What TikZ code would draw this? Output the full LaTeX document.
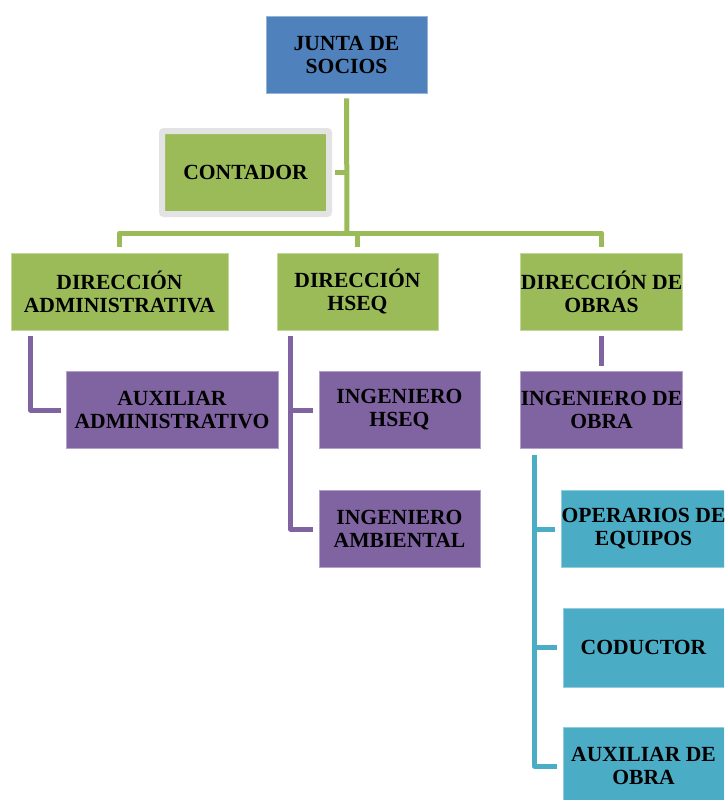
\documentclass[tikz,border=0pt]{standalone}
\usepackage{fontspec}
\setmainfont{Liberation Serif}
\definecolor{cgreen}{HTML}{9BBB59}
\definecolor{cpurple}{HTML}{8064A2}
\definecolor{ccyan}{HTML}{4BACC6}
\definecolor{cblue}{HTML}{4F81BD}
\definecolor{cframe}{HTML}{E3E3E3}
\tikzset{
  box/.style={line width=0.8pt, minimum width=161pt, minimum height=77pt, inner sep=0pt,
    align=center, text=black, font=\bfseries\fontsize{21.6}{23}\selectfont},
  gbox/.style={box, fill=cgreen, draw=cgreen!60!white},
  pbox/.style={box, fill=cpurple, draw=cpurple!60!white},
  cbox/.style={box, fill=ccyan, draw=ccyan!60!white},
  bbox/.style={box, fill=cblue, draw=cblue!60!white},
  conn/.style={line width=5pt, line join=round},
  gline/.style={conn, draw=cgreen},
  pline/.style={conn, draw=cpurple},
  cline/.style={conn, draw=ccyan}
}
\begin{document}
\begin{tikzpicture}[x=1pt,y=-1pt]
\useasboundingbox (0,0) rectangle (724,800);
\clip (0,0) rectangle (724,800);
\fill[white] (0,0) rectangle (724,800);

% nodes
\node[bbox] (junta) at (346.5,54.5) {JUNTA DE\\SOCIOS};
\node[box, fill=cgreen, draw=cframe, line width=6pt, rounded corners=2pt,
      minimum width=167pt, minimum height=83pt] (contador) at (245.5,172.5) {CONTADOR};
\node[gbox, minimum width=217pt] (dadm) at (119.5,291.5) {DIRECCIÓN\\ADMINISTRATIVA};
\node[gbox] (dhseq) at (357.5,291.5) {DIRECCIÓN\\HSEQ};
\node[gbox] (dobras) at (601.5,291.5) {DIRECCIÓN DE\\OBRAS};
\node[pbox, minimum width=212pt] (auxadm) at (172,410) {AUXILIAR\\ADMINISTRATIVO};
\node[pbox] (inghseq) at (399.5,410) {INGENIERO\\HSEQ};
\node[pbox] (ingamb) at (399.5,529) {INGENIERO\\AMBIENTAL};
\node[pbox] (ingobra) at (601.5,410) {INGENIERO DE\\OBRA};
\node[cbox] (operarios) at (643.5,529) {OPERARIOS DE\\EQUIPOS};
\node[cbox, minimum height=79pt] (coductor) at (643.5,647.5) {CODUCTOR};
\node[cbox, minimum height=78pt] (auxobra) at (643.5,766) {AUXILIAR DE\\OBRA};

% green connectors
\coordinate (bus) at (347,233);
\draw[gline] ([yshift=-5pt]junta.south) -- (bus);
\draw[gline] ([xshift=3pt]contador.east) -- (contador.east -| bus);
\draw[gline] ([yshift=6pt]dadm.north) |- (bus);
\draw[gline] ([yshift=6pt]dobras.north) |- (bus);
\draw[gline] ([yshift=6pt]dhseq.north) -- (dhseq.north |- bus);

% purple connectors
\draw[pline] ([shift={(20pt,-6pt)}]dadm.south west) |- ([xshift=-5pt]auxadm.west);
\coordinate (hv) at ([shift={(14pt,-6pt)}]dhseq.south west);
\draw[pline] (hv) |- ([xshift=-6pt]ingamb.west);
\draw[pline] ([xshift=-6pt]inghseq.west) -- (inghseq.west -| hv);
\draw[pline] ([yshift=-6pt]dobras.south) -- ([yshift=5pt]ingobra.north);

% cyan connectors
\coordinate (cv) at ([shift={(14pt,-6pt)}]ingobra.south west);
\draw[cline] (cv) |- ([xshift=-6pt]auxobra.west);
\draw[cline] ([xshift=-6pt]operarios.west) -- (operarios.west -| cv);
\draw[cline] ([xshift=-6pt]coductor.west) -- (coductor.west -| cv);
\end{tikzpicture}
\end{document}
